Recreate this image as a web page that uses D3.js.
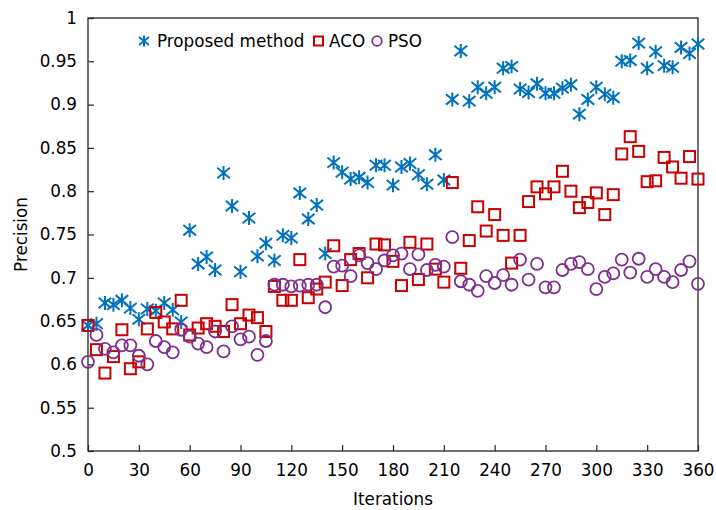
<!DOCTYPE html>
<html><head><meta charset="utf-8">
<script src="https://cdn.jsdelivr.net/npm/d3@7/dist/d3.min.js"></script>
<style>body{margin:0;background:#fff}svg{display:block}text{font-family:"DejaVu Sans",Verdana,sans-serif}</style>
</head><body><svg id="c" width="716" height="510"></svg>
<script>
const iterations = d3.range(0, 361, 5);
const proposed = [0.645,0.647,0.671,0.669,0.674,0.665,0.652,0.664,0.662,0.671,0.663,0.649,
0.755,0.716,0.724,0.709,0.821,0.783,0.707,0.769,0.725,0.740,0.720,0.749,0.746,0.798,0.768,0.784,0.728,
0.833,0.822,0.814,0.816,0.810,0.830,0.830,0.807,0.828,0.832,0.819,0.808,0.842,0.813,
0.906,0.962,0.904,0.920,0.913,0.920,0.942,0.944,0.918,0.914,0.924,0.913,0.913,0.919,0.923,0.889,0.906,
0.920,0.912,0.908,0.950,0.951,0.971,0.942,0.961,0.945,0.943,0.966,0.959,0.970];
const aco = [0.645,0.617,0.590,0.609,0.640,0.595,0.603,0.641,0.660,0.649,0.641,0.674,
0.634,0.642,0.647,0.644,0.638,0.669,0.647,0.657,0.654,0.638,0.690,0.674,0.674,0.721,0.677,0.687,0.695,
0.737,0.691,0.721,0.728,0.700,0.739,0.738,0.719,0.691,0.741,0.698,0.739,0.710,0.695,
0.810,0.711,0.743,0.782,0.754,0.773,0.749,0.717,0.749,0.788,0.805,0.797,0.805,0.823,0.800,0.781,0.787,
0.798,0.773,0.796,0.843,0.863,0.846,0.811,0.812,0.839,0.828,0.815,0.840,0.814];
const pso = [0.603,0.634,0.618,0.614,0.622,0.622,0.610,0.600,0.627,0.620,0.614,0.640,
0.632,0.624,0.620,0.638,0.615,0.644,0.629,0.632,0.611,0.627,0.692,0.692,0.690,0.691,0.692,0.692,0.666,
0.713,0.714,0.702,0.726,0.717,0.710,0.720,0.726,0.728,0.710,0.727,0.709,0.715,0.713,
0.747,0.696,0.692,0.685,0.702,0.694,0.703,0.692,0.721,0.698,0.716,0.689,0.689,0.709,0.716,0.718,0.710,
0.687,0.701,0.705,0.721,0.706,0.722,0.701,0.710,0.701,0.695,0.709,0.719,0.693];
const xTicks = d3.range(0, 361, 30);
const yTicks = d3.range(0.5, 1.0001, 0.05);
const seriesNames = ["Proposed method", "ACO", "PSO"];
const colors = ["#0072BD", "#C80000", "#7E2F8E"];

const svg = d3.select("#c");
const L = 88, R = 698, T = 18, B = 451;
const x = d3.scaleLinear().domain([0, 360]).range([L, R]);
const y = d3.scaleLinear().domain([0.5, 1]).range([B, T]);
const axisColor = "#262626";
const FS = "16.8px";

const xAxis = d3.axisBottom(x).tickValues(xTicks).tickSize(-6).tickPadding(13).tickFormat(d3.format("d"));
const gx = svg.append("g").attr("transform", `translate(0,${B})`).call(xAxis);
const yAxis = d3.axisLeft(y).tickValues(yTicks).tickSize(-6).tickPadding(11)
  .tickFormat(d => (Math.abs(d-1)<1e-9 ? "1" : d3.format(".2~f")(d)));
const gy = svg.append("g").attr("transform", `translate(${L},0)`).call(yAxis);
[gx, gy].forEach(g => {
  g.select(".domain").remove();
  g.selectAll(".tick line").attr("stroke", axisColor).attr("stroke-width", 1.2);
  g.selectAll(".tick text").attr("fill", "#000").style("font-size", FS).style("font-family", '"DejaVu Sans",Verdana,sans-serif');
});
svg.append("rect").attr("x", L).attr("y", T).attr("width", R-L).attr("height", B-T)
  .attr("fill", "none").attr("stroke", axisColor).attr("stroke-width", 1.3);

function star(r, dx, dy) {
  return `M0,${-r}L0,${r}M${-dx},${-dy}L${dx},${dy}M${-dx},${dy}L${dx},${-dy}`;
}
const plot = svg.append("g");
const datasets = [proposed, aco, pso];
datasets.forEach((vals, si) => {
  const g = plot.append("g");
  const pts = iterations.map((it, i) => ({x: it, y: vals[i]}));
  if (si === 0) {
    g.selectAll("path").data(pts).join("path")
      .attr("transform", d => `translate(${x(d.x)},${y(d.y)})`)
      .attr("d", star(7, 6.3, 5.2)).attr("stroke", colors[0]).attr("stroke-width", 2).attr("fill", "none");
  } else if (si === 1) {
    g.selectAll("rect").data(pts).join("rect")
      .attr("x", d => x(d.x) - 5.5).attr("y", d => y(d.y) - 5.5)
      .attr("width", 11).attr("height", 11)
      .attr("fill", "none").attr("stroke", colors[1]).attr("stroke-width", 2);
  } else {
    g.selectAll("circle").data(pts).join("circle")
      .attr("cx", d => x(d.x)).attr("cy", d => y(d.y)).attr("r", 6)
      .attr("fill", "none").attr("stroke", colors[2]).attr("stroke-width", 1.8);
  }
});

const lg = svg.append("g").style("font-size", FS);
lg.append("path").attr("transform", "translate(144,41)").attr("d", star(5.5, 5, 4))
  .attr("stroke", colors[0]).attr("stroke-width", 2).attr("fill", "none");
lg.append("text").attr("x", 157).attr("y", 47).text(seriesNames[0]);
lg.append("rect").attr("x", 314).attr("y", 36.5).attr("width", 9).attr("height", 9)
  .attr("fill", "none").attr("stroke", colors[1]).attr("stroke-width", 2);
lg.append("text").attr("x", 329).attr("y", 47).text(seriesNames[1]);
lg.append("circle").attr("cx", 377).attr("cy", 41).attr("r", 4.8)
  .attr("fill", "none").attr("stroke", colors[2]).attr("stroke-width", 1.8);
lg.append("text").attr("x", 388).attr("y", 47).text(seriesNames[2]);

svg.append("text").attr("x", (L+R)/2).attr("y", 505).attr("text-anchor", "middle")
  .style("font-size", FS).text("Iterations");
svg.append("text").attr("transform", `translate(27,${(T+B)/2}) rotate(-90)`).attr("text-anchor", "middle")
  .style("font-size", FS).text("Precision");
</script></body></html>
